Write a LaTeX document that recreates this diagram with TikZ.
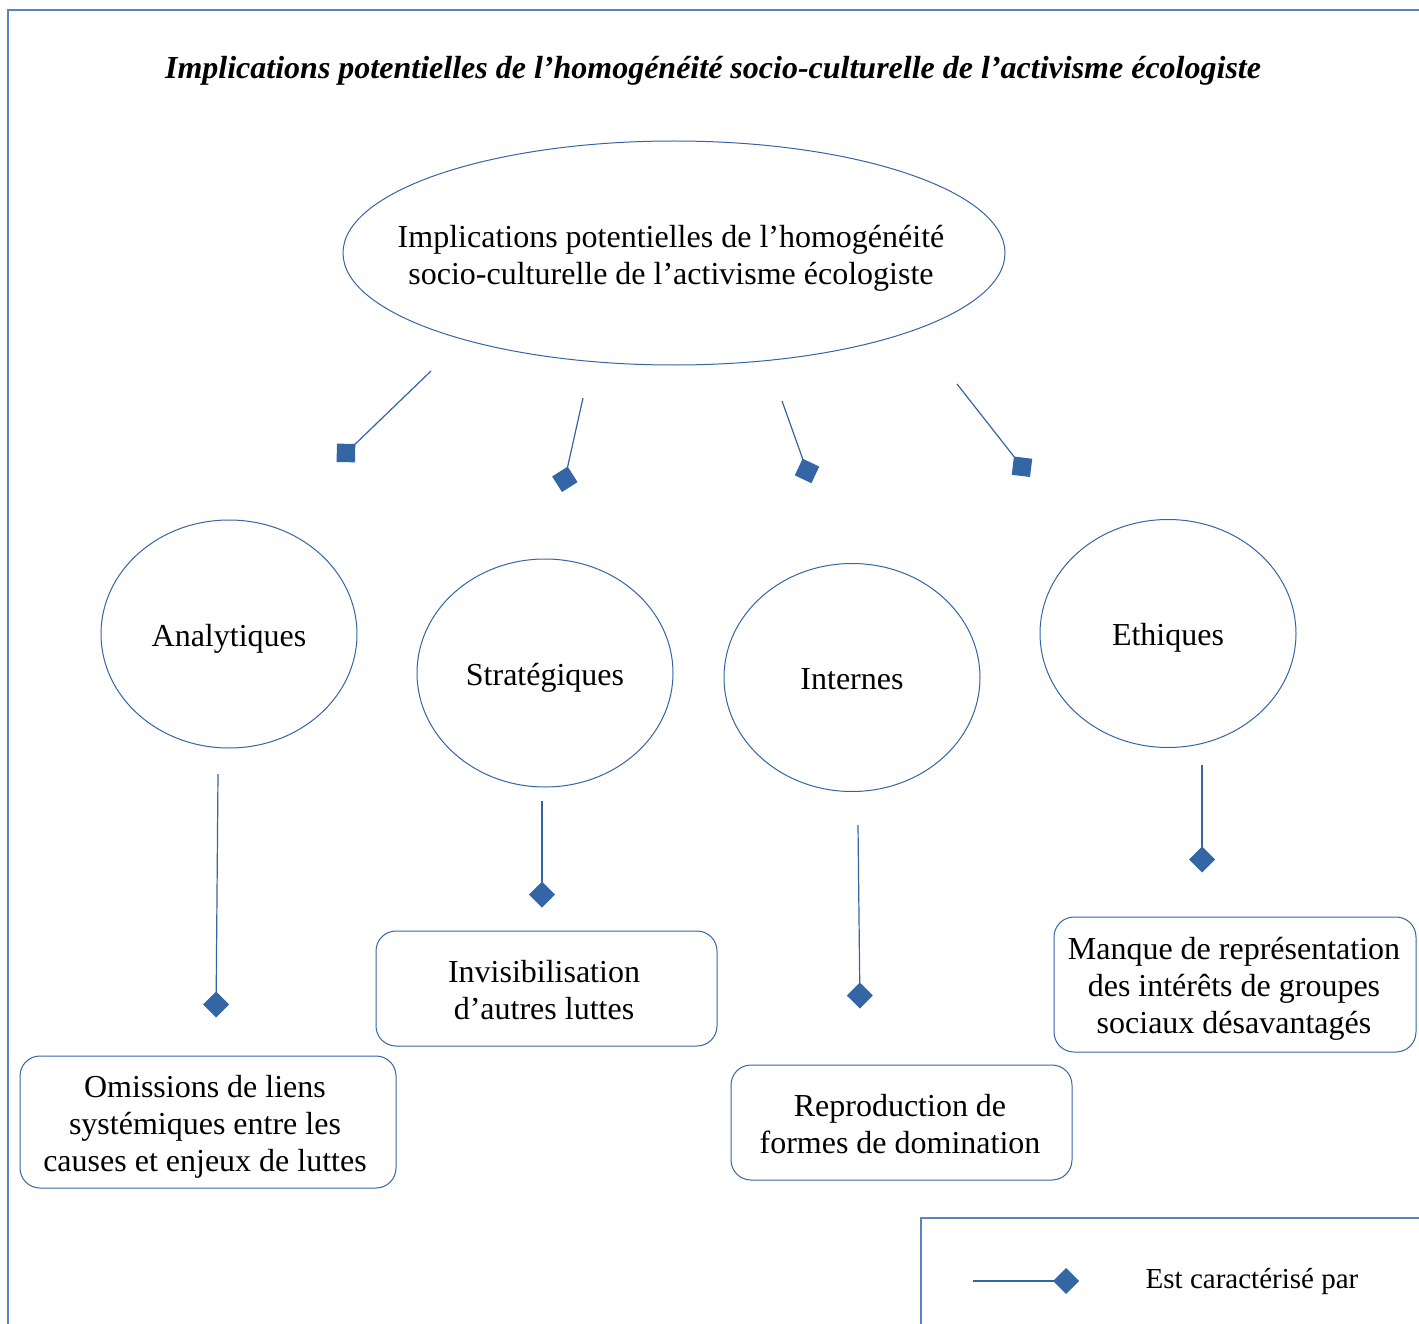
\documentclass[tikz,border=0pt]{standalone}
\usepackage{fontspec}
\setmainfont{Liberation Serif}
\usetikzlibrary{arrows.meta,shapes.geometric}
\definecolor{lblue}{HTML}{3465A4}
\definecolor{fblue}{HTML}{5B83C4}
\begin{document}
\begin{tikzpicture}[x=1pt,y=-1pt,
  every node/.style={font=\fontsize{32}{37}\selectfont},
  ell/.style={draw=lblue,line width=1pt,ellipse,inner sep=0pt},
  circ/.style={ell,minimum width=256pt,minimum height=228pt},
  rbox/.style={draw=lblue,line width=1pt,rectangle,rounded corners=20pt,inner sep=0pt},
  txt/.style={align=center,inner sep=0pt},
  link/.style={draw=lblue,line width=1.2pt,-{Diamond[length=26pt,width=26pt,fill=lblue]}},
  frameline/.style={draw=fblue,line width=1.2pt}]
\useasboundingbox (0,0) rectangle (1419,1324);
% frames
\draw[frameline] (8,1324) -- (8,10) -- (1419,10);
\draw[frameline] (921,1324) -- (921,1218) -- (1419,1218);
% title
\node[txt,font=\fontsize{32}{37}\selectfont\bfseries\itshape] (title) at (713,71) {Implications potentielles de l’homogénéité socio-culturelle de l’activisme écologiste};
% main ellipse
\node[ell,minimum width=662pt,minimum height=224pt] (top) at (674,253) {};
\node[txt] (toptext) at (671,258) {Implications potentielles de l’homogénéité\\socio-culturelle de l’activisme écologiste};
% circles
\node[circ] (ana) at (229,634) {};
\node[circ] (strat) at (545,673) {};
\node[circ] (int) at (852,677.5) {};
\node[circ] (eth) at (1168,633.5) {};
\node[txt] (anat) at (229,639) {Analytiques};
\node[txt] (stratt) at (545,678) {Stratégiques};
\node[txt] (intt) at (852,679) {Internes};
\node[txt] (etht) at (1168,638) {Ethiques};
% boxes
\node[rbox,minimum width=376pt,minimum height=132pt] (omi) at (208,1122) {};
\node[rbox,minimum width=341pt,minimum height=115pt] (invis) at (546.5,988.5) {};
\node[rbox,minimum width=341pt,minimum height=115pt] (repro) at (901.5,1122.5) {};
\node[rbox,minimum width=362pt,minimum height=135pt] (manque) at (1235,984.5) {};
\node[txt] (omit) at (205,1127) {Omissions de liens\\systémiques entre les\\causes et enjeux de luttes};
\node[txt] (invist) at (544,990.5) {Invisibilisation\\ d’autres luttes};
\node[txt] (reprot) at (900,1124.5) {Reproduction de\\formes de domination};
\node[txt] (manquet) at (1234,988.5) {Manque de représentation\\des intérêts de groupes\\sociaux désavantagés};
% connector coordinates
\coordinate (s1) at (431,371); \coordinate (e1) at (336.6,462);
\coordinate (s2) at (583,398); \coordinate (e2) at (562,492);
\coordinate (s3) at (782,401); \coordinate (e3) at (811.4,483.2);
\coordinate (s4) at (957,384); \coordinate (e4) at (1030,477);
\coordinate (s5) at (218,774); \coordinate (e5) at (216,1017.5);
\coordinate (s6) at (542,801); \coordinate (e6) at (542,907.5);
\coordinate (s7) at (858,825); \coordinate (e7) at (860,1008.5);
\coordinate (s8) at (1202,765); \coordinate (e8) at (1202,872.5);
\foreach \i in {1,...,8} {\draw[link] (s\i) -- (e\i);}
% legend
\coordinate (ls) at (973,1281); \coordinate (le) at (1079,1281);
\draw[link] (ls) -- (le);
\node[txt,font=\fontsize{29}{34}\selectfont] (legtext) at (1252,1281) {Est caractérisé par};
\end{tikzpicture}
\end{document}
